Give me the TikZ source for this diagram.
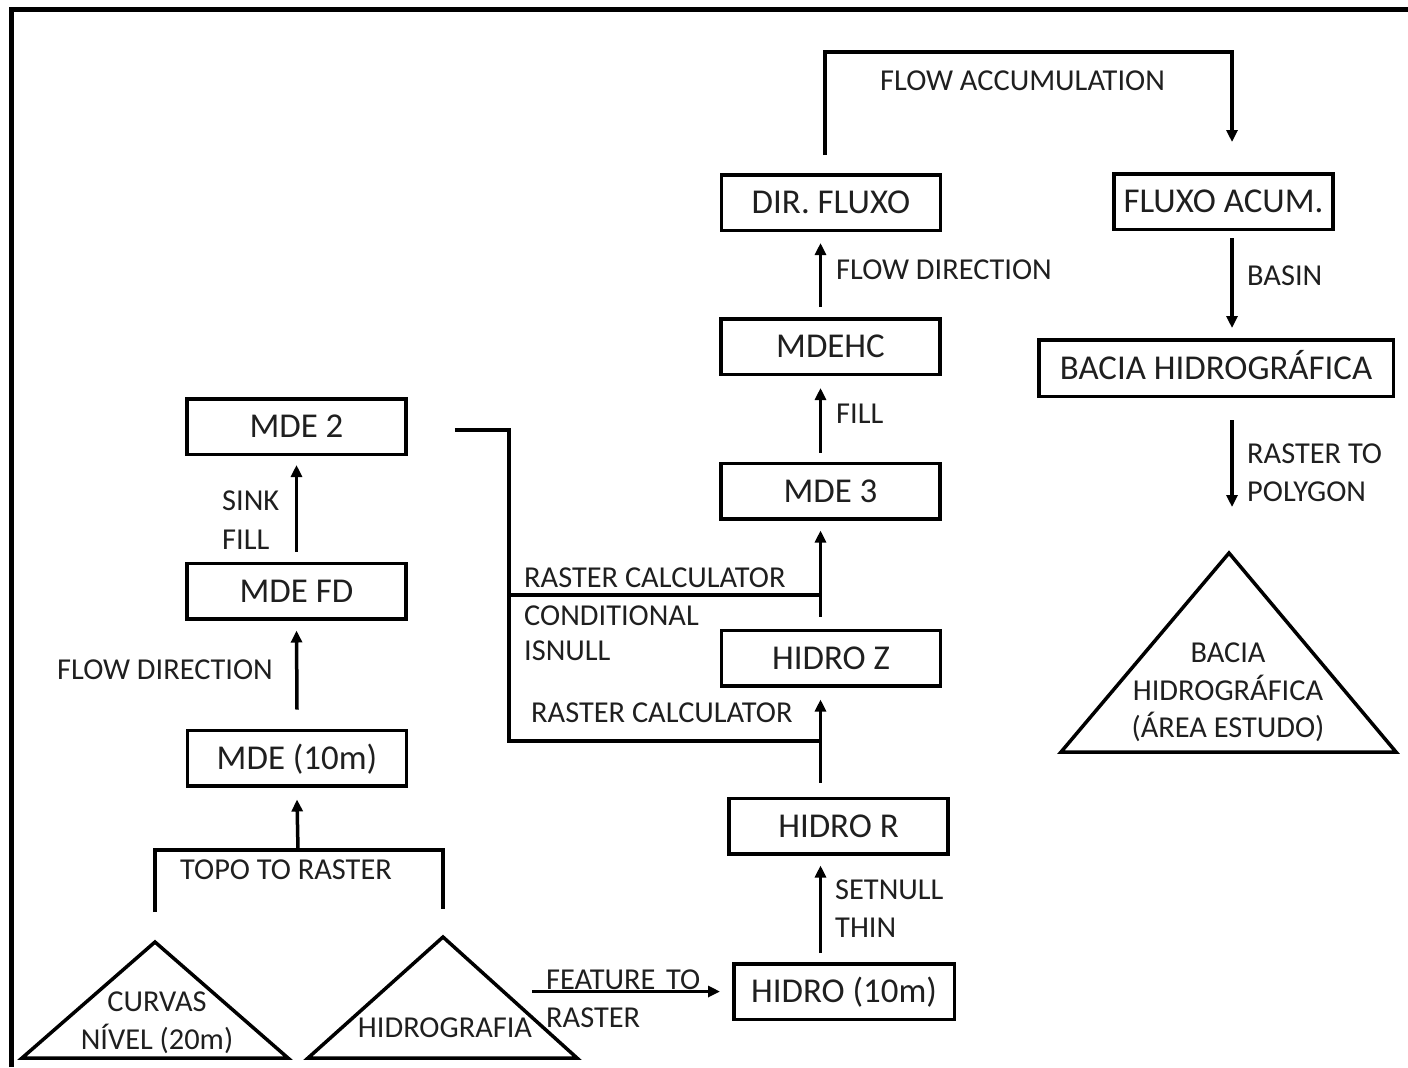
\documentclass[tikz,border=0pt]{standalone}
\usepackage{fontspec}
\setmainfont{Carlito}
\usetikzlibrary{arrows.meta,calc}

\begin{document}
\begin{tikzpicture}[x=1bp,y=-1bp,
  box/.style={draw,line width=3.5bp,minimum width=219bp,minimum height=55.5bp,
    inner sep=0pt,font=\fontsize{35}{41}\selectfont,text=black!88,
    text height=22.5bp,text depth=0pt},
  lbl/.style={font=\fontsize{30.5}{36}\selectfont,text=black!88,inner sep=0pt},
  lw/.style={lbl,anchor=base west},
  lc/.style={lbl,anchor=base},
  conn/.style={line width=3.5bp},
  arr/.style={conn,-{Triangle[length=12bp,width=11bp]}},
  tri/.style={line width=3.5bp,line join=miter}]
\useasboundingbox (0,0) rectangle (1408,1067);

% outer frame (top and left edges)
\draw[line width=4.5bp] (11.5,1067) -- (11.5,9.5) -- (1408,9.5);

% process boxes
\node[box] (dirfluxo)  at (831,202.5)    {DIR. FLUXO};
\node[box] (fluxoacum) at (1223.5,201.5) {FLUXO ACUM.};
\node[box] (mdehc)     at (830.5,346.5)  {MDEHC};
\node[box] (mde3)      at (830.5,491)    {MDE 3};
\node[box,minimum width=354.5bp,minimum height=56.5bp] (bacia) at (1216,368) {BACIA HIDROGRÁFICA};
\node[box] (mde2)      at (296.5,426.5)  {MDE 2};
\node[box] (mdefd)     at (296.5,591)    {MDE FD};
\node[box] (hidroz)    at (831,658)      {HIDRO Z};
\node[box] (mde10)     at (297,758)      {MDE (10m)};
\node[box] (hidror)    at (838.5,826)    {HIDRO R};
\node[box,minimum width=220.5bp] (hidro10) at (844,991.5) {HIDRO (10m)};

% input / output layers (triangles)
\coordinate (t1) at (155,942);
\coordinate (t2) at (443,937);
\coordinate (t3) at (1229,553);
\draw[tri] (22,1058) -- (t1) -- (288,1058) -- cycle;
\draw[tri] (308,1058) -- (t2) -- (577,1058) -- cycle;
\draw[tri] (1061,752) -- (t3) -- (1396,752) -- cycle;
\node[lc] (curvasA) at (157,1011) {CURVAS};
\node[lc] (curvasB) at (157,1049) {NÍVEL (20m)};
\node[lc] (hidrografia) at (445,1037) {HIDROGRAFIA};
\node[lc] (areaA) at (1228,662) {BACIA};
\node[lc] (areaB) at (1228,700) {HIDROGRÁFICA};
\node[lc] (areaC) at (1228,737) {(ÁREA ESTUDO)};

% left column: topo to raster -> flow direction -> sink fill
\coordinate (topo) at (298,850);
\draw[conn] ([yshift=30bp]t1) -- (t1 |- topo) -- (t2 |- topo) -- ([yshift=28bp]t2);
\draw[arr] (topo) -- ([yshift=-12bp]mde10.south);
\node[lw] (ltopo) at (180,879) {TOPO TO RASTER};
\draw[arr] ([yshift=19bp]mde10.north) -- ([yshift=-10bp]mdefd.south);
\node[lw] (lfdir1) at (57,679) {FLOW DIRECTION};
\draw[arr] ([yshift=10bp]mdefd.north) -- ([yshift=-9bp]mde2.south);
\node[lw] (lsink) at (222,510) {SINK};
\node[lw] (lfill1) at (222,549) {FILL};

% raster calculator branches
\coordinate (colx) at (820.5,0);
\coordinate (rc) at (509,430);
\coordinate (rcA) at (509,595);
\coordinate (rcB) at (509,741);
\draw[conn] ([xshift=47bp]mde2.east |- rc) -- (rc) -- (rcB) -- (colx |- rcB);
\draw[conn] (rcA) -- (colx |- rcA);
\node[lw] (lrc1) at (524,587) {RASTER CALCULATOR};
\node[lw] (lcond) at (524,625) {CONDITIONAL};
\node[lw] (lisnull) at (524,660) {ISNULL};
\node[lw] (lrc2) at (531,722) {RASTER CALCULATOR};

% hydrography chain
\coordinate (ftr) at (532,0);
\draw[arr] (ftr |- hidro10.west) -- ([xshift=-12bp]hidro10.west);
\node[lw] (lfeat) at (546,989) {FEATURE\hspace{0.35em}TO};
\node[lw] (lrast) at (546,1027) {RASTER};
\draw[arr] ([yshift=9bp]hidro10.north -| colx) -- ([yshift=-10bp]hidror.south -| colx);
\node[lw] (lsetnull) at (835,899) {SETNULL};
\node[lw] (lthin) at (835,937) {THIN};
\draw[arr] ([yshift=14bp]hidror.north -| colx) -- ([yshift=-12bp]hidroz.south -| colx);
\draw[arr] ([yshift=12bp]hidroz.north -| colx) -- ([yshift=-10bp]mde3.south -| colx);

% right column: fill -> flow direction -> flow accumulation
\draw[arr] ([yshift=9bp]mde3.north -| colx) -- ([yshift=-12bp]mdehc.south -| colx);
\node[lw] (lfill2) at (836,423) {FILL};
\draw[arr] ([yshift=10bp]mdehc.north -| colx) -- ([yshift=-11bp]dirfluxo.south -| colx);
\node[lw] (lfdir2) at (836,279) {FLOW DIRECTION};
\coordinate (fa1) at (825,52);
\coordinate (fa2) at (1232,52);
\draw[arr] ([yshift=18bp]dirfluxo.north -| fa1) -- (fa1) -- (fa2) -- ([yshift=30bp]fluxoacum.north -| fa2);
\node[lw] (lfacc) at (880,90) {FLOW ACCUMULATION};
\draw[arr] ([yshift=-7bp]fluxoacum.south -| fa2) -- ([yshift=10bp]bacia.north -| fa2);
\node[lw] (lbasin) at (1247,285) {BASIN};
\draw[arr] ([yshift=-22bp]bacia.south -| fa2) -- ([yshift=46bp]t3 -| fa2);
\node[lw] (lr2p1) at (1247,463) {RASTER TO};
\node[lw] (lr2p2) at (1247,501) {POLYGON};
\end{tikzpicture}
\end{document}
